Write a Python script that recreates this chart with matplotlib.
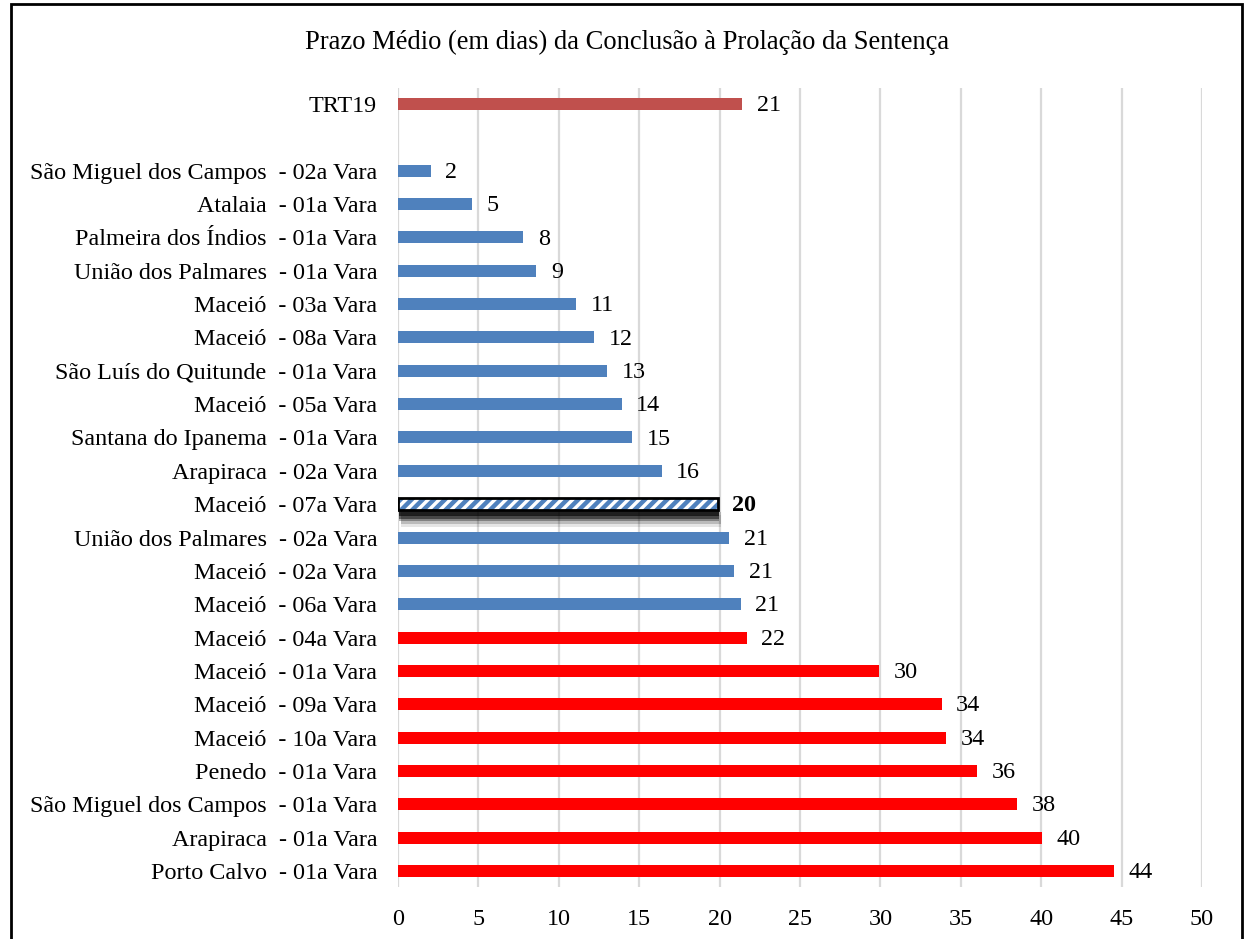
import numpy as np
import matplotlib.pyplot as plt
from matplotlib.patches import Rectangle
import matplotlib.patheffects as pe

plt.rcParams['font.family'] = ['Liberation Serif', 'DejaVu Serif']
plt.rcParams['hatch.linewidth'] = 3.2

# data, top to bottom as shown
labels = [
    'TRT19',
    '',
    'São Miguel dos Campos  - 02a Vara',
    'Atalaia  - 01a Vara',
    'Palmeira dos Índios  - 01a Vara',
    'União dos Palmares  - 01a Vara',
    'Maceió  - 03a Vara',
    'Maceió  - 08a Vara',
    'São Luís do Quitunde  - 01a Vara',
    'Maceió  - 05a Vara',
    'Santana do Ipanema  - 01a Vara',
    'Arapiraca  - 02a Vara',
    'Maceió  - 07a Vara',
    'União dos Palmares  - 02a Vara',
    'Maceió  - 02a Vara',
    'Maceió  - 06a Vara',
    'Maceió  - 04a Vara',
    'Maceió  - 01a Vara',
    'Maceió  - 09a Vara',
    'Maceió  - 10a Vara',
    'Penedo  - 01a Vara',
    'São Miguel dos Campos  - 01a Vara',
    'Arapiraca  - 01a Vara',
    'Porto Calvo  - 01a Vara',
]
values = [21.4, np.nan, 2.05, 4.6, 7.8, 8.6, 11.1, 12.2, 13.0, 13.9, 14.55,
          16.4, 19.9, 20.6, 20.9, 21.3, 21.7, 29.9, 33.8, 34.1, 36.0, 38.5,
          40.05, 44.5]
shown = ['21', '', '2', '5', '8', '9', '11', '12', '13', '14', '15', '16',
         '20', '21', '21', '21', '22', '30', '34', '34', '36', '38', '40', '44']
# group per row: trt, gap, below, highlight, above
groups = ['trt', 'gap'] + ['below'] * 10 + ['mine'] + ['below'] * 3 + ['above'] * 8

colors = {'trt': '#c0504d', 'below': '#4f81bd', 'above': '#ff0000'}
fs = 17.4

fig = plt.figure(figsize=(12.44, 9.39), dpi=100)
ax = fig.add_axes([398 / 1244, 1 - 887 / 939, (1202 - 398) / 1244, (887 - 88) / 939])

n = len(labels)
y = np.arange(n)[::-1]
h = 0.36

for yi, v, g, s in zip(y, values, groups, shown):
    if g == 'gap':
        continue
    if g == 'mine':
        shadow = ax.barh(yi, v, height=h, color='white', zorder=2)
        shadow[0].set_path_effects([
            pe.SimplePatchShadow(offset=(2, -12), shadow_rgbFace='black', alpha=0.10),
            pe.SimplePatchShadow(offset=(2, -10), shadow_rgbFace='black', alpha=0.18),
            pe.SimplePatchShadow(offset=(1, -8), shadow_rgbFace='black', alpha=0.30),
            pe.SimplePatchShadow(offset=(1, -6), shadow_rgbFace='black', alpha=0.45),
            pe.SimplePatchShadow(offset=(1, -4), shadow_rgbFace='black', alpha=0.6),
            pe.Normal()])
        ax.barh(yi, v, height=h, facecolor='white', edgecolor='#4f81bd',
                hatch='///', linewidth=0, zorder=3)
        ax.barh(yi, v, height=h, fill=False, edgecolor='black',
                linewidth=2, zorder=4)
        ax.text(v + 0.9, yi - 0.05, s, fontsize=fs, fontweight='bold',
                va='center', ha='left')
    else:
        ax.barh(yi, v, height=h, color=colors[g], zorder=2)
        ax.text(v + 0.9, yi - 0.05, s, fontsize=fs, va='center', ha='left')

ax.set_xlim(0, 50)
ax.set_ylim(-0.48, n - 0.52)
ax.set_xticks(np.arange(0, 51, 5))
ax.set_yticks(y)
ax.set_yticklabels(labels)
ax.tick_params(axis='both', length=0, labelsize=fs)
ax.tick_params(axis='y', pad=15)
ax.tick_params(axis='x', pad=16)
ax.xaxis.grid(True, color='#d9d9d9', linewidth=1.6, zorder=0)
ax.set_axisbelow(True)
for sp in ax.spines.values():
    sp.set_visible(False)

fig.text(627 / 1244, 1 - 42 / 939, 'Prazo Médio (em dias) da Conclusão à Prolação da Sentença',
         fontsize=19.1, ha='center', va='center')

# outer frame
fig.add_artist(Rectangle((11 / 1244, -0.02), (1242 - 11) / 1244, 1.02 - 4 / 939,
                         transform=fig.transFigure, fill=False,
                         edgecolor='black', linewidth=2))

fig.savefig('out.png', dpi=100)
